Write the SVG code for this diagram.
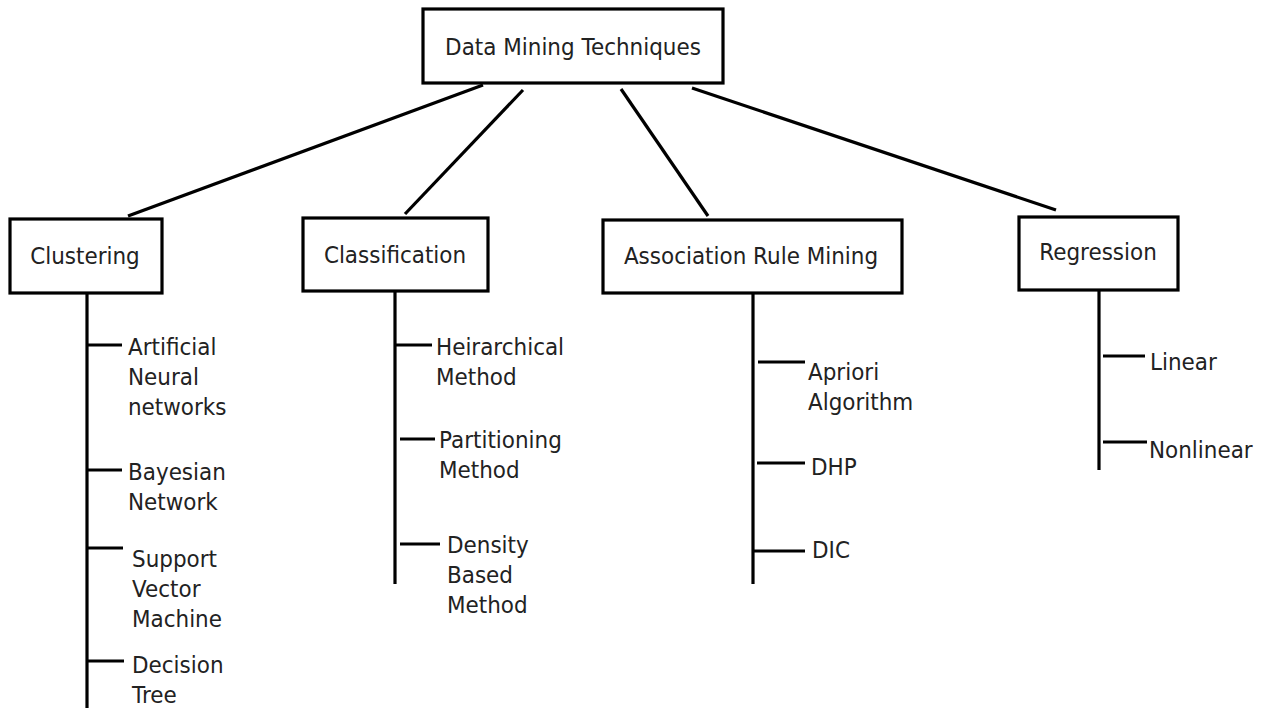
<svg xmlns="http://www.w3.org/2000/svg" width="1274" height="708" viewBox="0 0 1274 708">
<style>
.box{fill:#fff;stroke:#000;stroke-width:3.2}
.ln{stroke:#000;stroke-width:3.2;fill:none}
text{font-family:"DejaVu Sans",sans-serif;font-size:21.5px;fill:#222}
</style>
<rect width="1274" height="708" fill="#fff"/>
<g id="connectors">
<line class="ln" x1="483" y1="85" x2="128" y2="216"/>
<line class="ln" x1="523" y1="90" x2="405" y2="214"/>
<line class="ln" x1="621" y1="89" x2="708" y2="216"/>
<line class="ln" x1="692" y1="88" x2="1056" y2="210"/>
<line class="ln" x1="87" y1="293" x2="87" y2="708"/>
<line class="ln" x1="87" y1="345" x2="122" y2="345"/>
<line class="ln" x1="87" y1="470" x2="122" y2="470"/>
<line class="ln" x1="87" y1="548" x2="123" y2="548"/>
<line class="ln" x1="87" y1="661" x2="124" y2="661"/>
<line class="ln" x1="395" y1="291" x2="395" y2="584"/>
<line class="ln" x1="395" y1="345" x2="432" y2="345"/>
<line class="ln" x1="400" y1="439" x2="435" y2="439"/>
<line class="ln" x1="400" y1="544" x2="440" y2="544"/>
<line class="ln" x1="753" y1="293" x2="753" y2="584"/>
<line class="ln" x1="758" y1="362" x2="805" y2="362"/>
<line class="ln" x1="757" y1="463" x2="805" y2="463"/>
<line class="ln" x1="753" y1="551" x2="805" y2="551"/>
<line class="ln" x1="1099" y1="290" x2="1099" y2="470"/>
<line class="ln" x1="1103" y1="356" x2="1145" y2="356"/>
<line class="ln" x1="1103" y1="442" x2="1147" y2="442"/>
</g>
<g id="root">
<rect class="box" x="423" y="9" width="300" height="74"/>
<text x="573" y="55" text-anchor="middle" transform="matrix(1 0 0 1.1 0 -5.5)">Data Mining Techniques</text>
</g>
<g id="clustering">
<rect class="box" x="10" y="219" width="152" height="74"/>
<text x="85" y="264" text-anchor="middle" transform="matrix(1 0 0 1.1 0 -26.4)">Clustering</text>
</g>
<g id="classification">
<rect class="box" x="303" y="218" width="185" height="73"/>
<text x="395" y="263" text-anchor="middle" transform="matrix(1 0 0 1.1 0 -26.3)">Classification</text>
</g>
<g id="association">
<rect class="box" x="603" y="220" width="299" height="73"/>
<text x="751" y="264" text-anchor="middle" transform="matrix(1 0 0 1.1 0 -26.4)">Association Rule Mining</text>
</g>
<g id="regression">
<rect class="box" x="1019" y="217" width="159" height="73"/>
<text x="1098" y="260" text-anchor="middle" transform="matrix(1 0 0 1.1 0 -26)">Regression</text>
</g>
<g id="ann"><text x="128" y="355" transform="matrix(1 0 0 1.1 0 -35.5)">Artificial</text><text x="128" y="385" transform="matrix(1 0 0 1.1 0 -38.5)">Neural</text><text x="128" y="415" transform="matrix(1 0 0 1.1 0 -41.5)">networks</text></g>
<g id="bayes"><text x="128" y="480" transform="matrix(1 0 0 1.1 0 -48)">Bayesian</text><text x="128" y="510" transform="matrix(1 0 0 1.1 0 -51)">Network</text></g>
<g id="svm"><text x="132" y="567" transform="matrix(1 0 0 1.1 0 -56.7)">Support</text><text x="132" y="597" transform="matrix(1 0 0 1.1 0 -59.7)">Vector</text><text x="132" y="627" transform="matrix(1 0 0 1.1 0 -62.7)">Machine</text></g>
<g id="dtree"><text x="132" y="673" transform="matrix(1 0 0 1.1 0 -67.3)">Decision</text><text x="132" y="703" transform="matrix(1 0 0 1.1 0 -70.3)">Tree</text></g>
<g id="heir"><text x="436" y="355" transform="matrix(1 0 0 1.1 0 -35.5)">Heirarchical</text><text x="436" y="385" transform="matrix(1 0 0 1.1 0 -38.5)">Method</text></g>
<g id="part"><text x="439" y="448" transform="matrix(1 0 0 1.1 0 -44.8)">Partitioning</text><text x="439" y="478" transform="matrix(1 0 0 1.1 0 -47.8)">Method</text></g>
<g id="dens"><text x="447" y="553" transform="matrix(1 0 0 1.1 0 -55.3)">Density</text><text x="447" y="583" transform="matrix(1 0 0 1.1 0 -58.3)">Based</text><text x="447" y="613" transform="matrix(1 0 0 1.1 0 -61.3)">Method</text></g>
<g id="apriori"><text x="808" y="380" transform="matrix(1 0 0 1.1 0 -38)">Apriori</text><text x="808" y="410" transform="matrix(1 0 0 1.1 0 -41)">Algorithm</text></g>
<g id="dhp"><text x="811" y="475" transform="matrix(1 0 0 1.1 0 -47.5)">DHP</text></g>
<g id="dic"><text x="812" y="558" transform="matrix(1 0 0 1.1 0 -55.8)">DIC</text></g>
<g id="linear"><text x="1150" y="370" transform="matrix(1 0 0 1.1 0 -37)">Linear</text></g>
<g id="nonlinear"><text x="1149" y="458" transform="matrix(1 0 0 1.1 0 -45.8)">Nonlinear</text></g>
</svg>
